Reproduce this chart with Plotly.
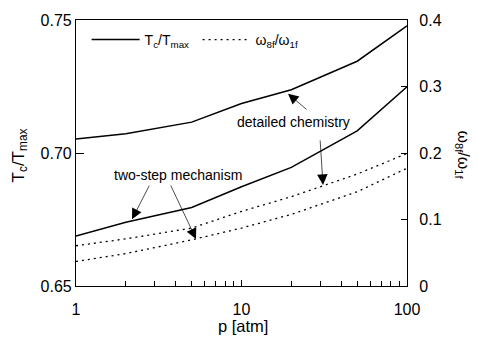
import plotly.graph_objects as go
import numpy as np

# pressure [atm]
p = [1, 2, 5, 10, 20, 50, 100]
# Tc/Tmax (left axis)
tc_detailed = [0.7053, 0.7072, 0.7116, 0.7186, 0.7238, 0.7345, 0.7478]
tc_twostep = [0.6688, 0.6740, 0.6795, 0.6873, 0.6946, 0.7083, 0.7249]
# omega_8f/omega_1f (right axis)
om_detailed = [0.0605, 0.0709, 0.0871, 0.1122, 0.1343, 0.1683, 0.1993]
om_twostep = [0.0369, 0.0487, 0.0694, 0.0871, 0.1077, 0.1417, 0.1771]

FONT = "Liberation Sans, Arial, sans-serif"
fig = go.Figure()
fig.add_trace(go.Scatter(x=p, y=tc_detailed, mode="lines", line=dict(color="black", width=1.5),
                         name="T<sub>c</sub>/T<sub>max</sub>"))
fig.add_trace(go.Scatter(x=p, y=tc_twostep, mode="lines", line=dict(color="black", width=1.5),
                         showlegend=False))
fig.add_trace(go.Scatter(x=p, y=om_detailed, mode="lines", yaxis="y2",
                         line=dict(color="black", width=1.3, dash="2px,4px"),
                         name="ω<sub>8f</sub>/ω<sub>1f</sub>"))
fig.add_trace(go.Scatter(x=p, y=om_twostep, mode="lines", yaxis="y2",
                         line=dict(color="black", width=1.3, dash="2px,4px"),
                         showlegend=False))

lg = np.log10
ann = []
def arrow(x, y, ax, ay, yref="y"):
    ann.append(dict(x=lg(x), y=y, xref="x", yref=yref, ax=ax, ay=ay, text="", showarrow=True,
                    arrowhead=2, arrowsize=3.0, arrowwidth=0.7, arrowcolor="black"))

arrow(19.1, 0.7223, 20, 17)
arrow(31.1, 0.152, -3, -46, yref="y2")
arrow(2.18, 0.6751, 18, -35)
arrow(5.31, 0.0708, -26, -55, yref="y2")
ann.append(dict(x=lg(20.5), y=0.7116, xref="x", yref="y", text="detailed chemistry", showarrow=False,
                font=dict(size=14, family=FONT, color="black")))
ann.append(dict(x=lg(4.13), y=0.6917, xref="x", yref="y", text="two-step mechanism", showarrow=False,
                font=dict(size=14, family=FONT, color="black")))
W, H = 478, 340
L, R, T, B = 76, 71, 15, 54
PW, PH = W - L - R, H - T - B
# axis titles (positioned in pixels, converted to paper coordinates)
ann.append(dict(x=(20 - L) / PW, y=1 - (153 - T) / PH, xref="paper", yref="paper",
                xanchor="center", yanchor="middle",
                text="T<sub>c</sub>/T<sub>max</sub>", textangle=-90,
                showarrow=False, font=dict(size=17, family=FONT, color="black")))
ann.append(dict(x=(463 - L) / PW, y=1 - (152 - T) / PH, xref="paper", yref="paper",
                xanchor="center", yanchor="middle",
                text="ω<sub>8f</sub>/ω<sub>1f</sub>", textangle=90, showarrow=False,
                font=dict(size=16, family=FONT, color="black")))
ann.append(dict(x=(243 - L) / PW, y=1 - (327 - T) / PH, xref="paper", yref="paper",
                xanchor="center", yanchor="middle",
                text="p [atm]", showarrow=False, font=dict(size=16.5, family=FONT, color="black")))

fig.update_layout(
    annotations=ann,
    width=W, height=H, margin=dict(l=L, r=R, t=T, b=B),
    paper_bgcolor="white", plot_bgcolor="white",
    font=dict(family=FONT, size=16, color="black"),
    showlegend=True,
    legend=dict(orientation="h", x=0.032, y=0.985, xanchor="left", yanchor="top",
                bgcolor="rgba(0,0,0,0)", font=dict(size=14), itemwidth=48,
                entrywidth=48, entrywidthmode="pixels", tracegroupgap=0),
    xaxis=dict(type="log", range=[0, 2], showline=True, linecolor="black", linewidth=1.2, mirror=True,
               ticks="inside", ticklen=6, tickcolor="black", tickvals=[1, 10, 100], ticktext=["1", "10", "100"],
               showgrid=False, zeroline=False, ticklabelstandoff=9,
               minor=dict(ticks="inside", ticklen=5, tickcolor="black", showgrid=False, dtick="D1")),
    yaxis=dict(range=[0.65, 0.75], tickvals=[0.65, 0.70, 0.75], tickformat=".2f", showline=True,
               linecolor="black", linewidth=1.2, ticks="inside", ticklen=8, tickcolor="black",
               showgrid=False, zeroline=False),
    yaxis2=dict(range=[0, 0.4], overlaying="y", side="right", dtick=0.1, showline=True,
                linecolor="black", linewidth=1.2, ticks="inside", ticklen=6, tickcolor="black",
                showgrid=False, zeroline=False, ticklabelstandoff=8),
)
fig.write_html("out.html")
